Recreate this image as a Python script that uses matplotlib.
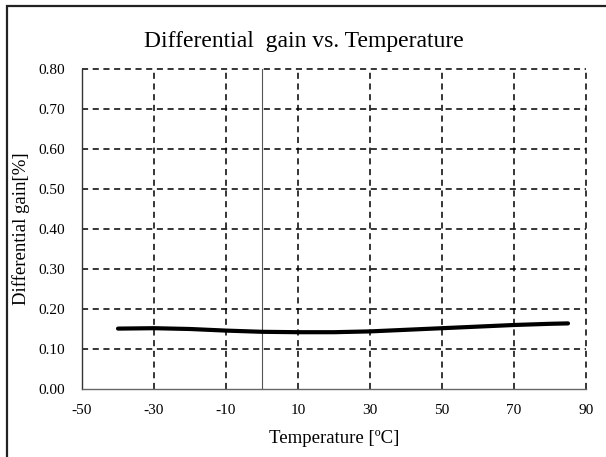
import numpy as np
import matplotlib.pyplot as plt
from matplotlib.patches import Rectangle

# values
temperature = [-40, -30, -20, -10, 0, 10, 20, 30, 40, 50, 60, 70, 80, 85]
diff_gain = [0.151, 0.152, 0.150, 0.146, 0.143, 0.142, 0.142, 0.144,
             0.148, 0.152, 0.156, 0.160, 0.163, 0.164]

x_ticks = [-50, -30, -10, 10, 30, 50, 70, 90]
y_ticks = [0.0, 0.1, 0.2, 0.3, 0.4, 0.5, 0.6, 0.7, 0.8]

plt.rcParams['font.family'] = ['Liberation Serif', 'DejaVu Serif']

fig = plt.figure(figsize=(6.06, 4.57), dpi=100)
W, H = 606, 457
ax = fig.add_axes([82 / W, 1 - 389 / H, (586 - 82) / W, (389 - 69) / H])

# outer chart-area border (only top and left are visible in the crop)
fig.patches.append(Rectangle((7 / W, -0.1), 1.2, 1 - 6 / H + 0.1,
                             transform=fig.transFigure, fill=False,
                             edgecolor='#222222', linewidth=1.6))

# dashed grid, including the edges at 0.80 and 90
for xv in x_ticks[1:]:
    ax.axvline(xv, color='black', linewidth=1.1, linestyle=(0, (4, 3)), zorder=1, clip_on=False)
for yv in y_ticks[1:]:
    ax.axhline(yv, color='black', linewidth=1.1, linestyle=(0, (4, 3)), zorder=1, clip_on=False)

# value axis crosses at 0
ax.axvline(0, color='#555555', linewidth=0.8, zorder=2)

ax.plot(temperature, diff_gain, color='black', linewidth=3, solid_capstyle='round', zorder=3)

ax.set_xlim(-50, 90)
ax.set_ylim(0, 0.8)
ax.set_xticks(x_ticks)
ax.set_yticks(y_ticks)
ax.set_xticklabels([str(v) for v in x_ticks])
ax.set_yticklabels([f'{v:.2f}' for v in y_ticks])
ax.tick_params(length=0, labelsize=11, pad=12)
ax.tick_params(axis='x', pad=11)

for side in ['top', 'right']:
    ax.spines[side].set_visible(False)
ax.spines['left'].set_color('#333333')
ax.spines['bottom'].set_color('#666666')
ax.spines['left'].set_linewidth(1.0)
ax.spines['bottom'].set_linewidth(1.0)

ax.set_xlabel('Temperature [\u00baC]', fontsize=13.5, labelpad=9)
ax.set_ylabel('Differential gain[%]', fontsize=13.5, labelpad=6)
fig.text(304 / W, 1 - 41 / H, 'Differential  gain vs. Temperature',
         ha='center', va='center', fontsize=17)

fig.savefig('out.png', dpi=100)
